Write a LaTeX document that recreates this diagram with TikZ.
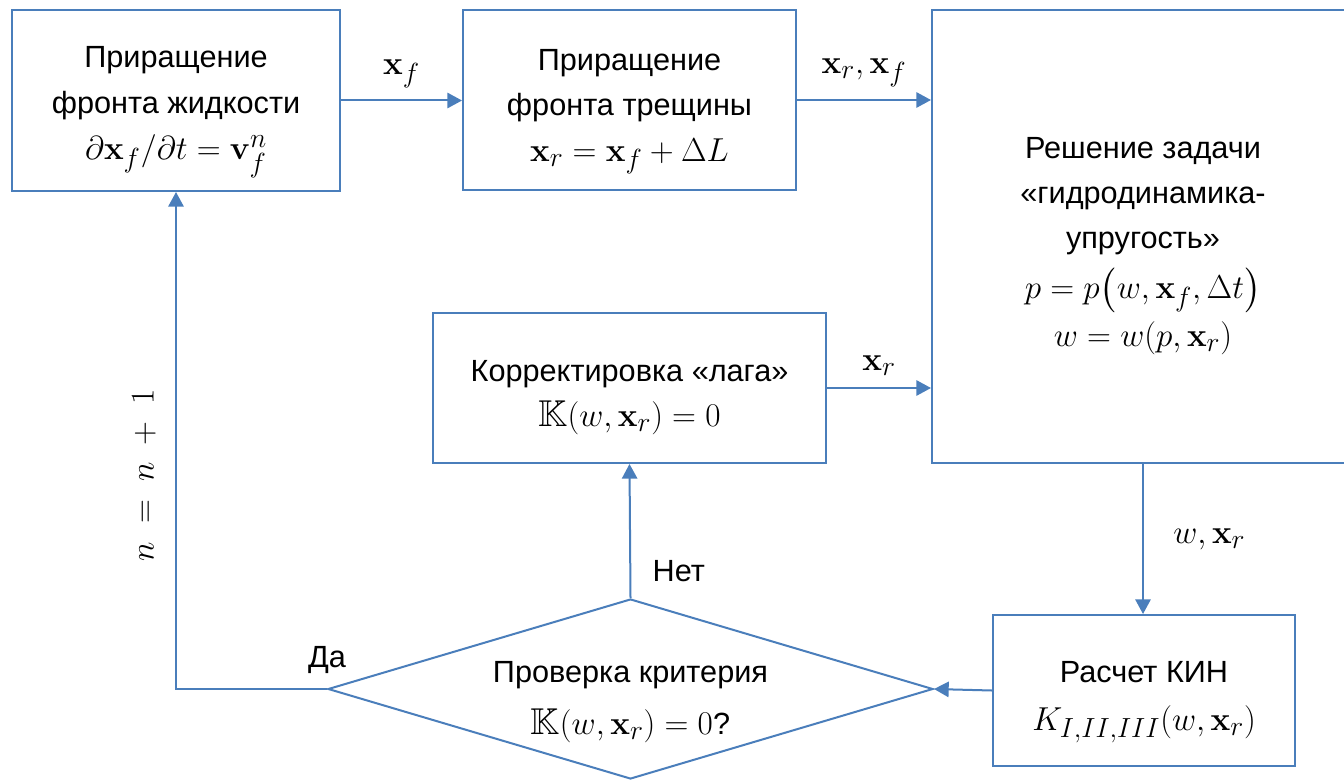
\documentclass[tikz,border=0pt]{standalone}
\usepackage{amsmath,amssymb}
\usepackage[no-math]{fontspec}
\setmainfont{Liberation Sans}
\usetikzlibrary{arrows.meta,shapes.geometric}
\definecolor{lineblue}{RGB}{74,126,187}
\newcommand{\mth}[1]{{\fontsize{28}{34}\selectfont$#1$}}
% text block set a little lower than the centre of its shape
\newcommand{\lowered}[2][5pt]{\raisebox{-#1}[\height][\depth]{\begin{tabular}{@{}c@{}}#2\end{tabular}}}

\begin{document}
\begin{tikzpicture}[x=0.75pt,y=0.75pt,yscale=-1,xscale=1,
  font=\fontsize{23}{34}\selectfont,
  block/.style={draw=lineblue,line width=1.5pt,inner sep=0pt},
  check/.style={draw=lineblue,line width=1.5pt,diamond,aspect=3.36,inner sep=0pt,minimum width=453.75pt,minimum height=135pt},
  link/.style={draw=lineblue,line width=1.5pt,-{Triangle[length=11pt,width=11.5pt]}},
  tag/.style={inner sep=0pt}
]
\useasboundingbox (0,0) rectangle (1344,781);

%Shape: Rectangle (fluid front)
\node [block,minimum width=246pt,minimum height=135.75pt] (fluid) at (176,100.5) {\lowered{Приращение\\фронта жидкости\\[1pt]\mth{\partial\mathbf{x}_f/\partial t=\mathbf{v}_f^n}}};
%Shape: Rectangle (crack front)
\node [block,minimum width=249.75pt,minimum height=135pt] (crack) at (629.5,100) {\lowered{Приращение\\фронта трещины\\\mth{\mathbf{x}_r=\mathbf{x}_f+\Delta L}}};
%Shape: Rectangle (coupled problem)
\node [block,minimum width=316.5pt,minimum height=339.75pt] (solve) at (1143,236.5) {\lowered{Решение задачи\\«гидродинамика-\\упругость»\\[3pt]\mth{p=p\bigl(w,\mathbf{x}_f,\Delta t\bigr)}\\[2pt]\mth{w=w(p,\mathbf{x}_r)}}};
%Shape: Rectangle (lag correction)
\node [block,minimum width=294.75pt,minimum height=112.5pt] (lag) at (629.5,388) {\lowered{Корректировка «лага»\\\mth{\mathbb{K}(w,\mathbf{x}_r)=0}}};
%Shape: Rectangle (SIF)
\node [block,minimum width=226.5pt,minimum height=113.25pt] (sif) at (1144,690.5) {\lowered{Расчет КИН\\[2pt]\mth{K_{I,II,III}(w,\mathbf{x}_r)}}};
%Shape: Diamond (criterion)
\node [check] (crit) at (630.5,689) {\lowered[8pt]{Проверка критерия\\[5pt]\mth{\mathbb{K}(w,\mathbf{x}_r)=0}?}};

% Connectors
\draw [link] (fluid.east) -- node [tag,above=9pt] {\mth{\mathbf{x}_f}} (fluid.east -| crack.west);
\draw [link] (crack.east) -- node [tag,above=9pt] {\mth{\mathbf{x}_r,\mathbf{x}_f}} (crack.east -| solve.west);
\draw [link] (lag.east) -- node [tag,above=9pt] {\mth{\mathbf{x}_r}} (lag.east -| solve.west);
\draw [link] (solve.south) -- node [tag,right=22pt] {\mth{w,\mathbf{x}_r}} (solve.south |- sif.north);
\draw [link] (sif.west) -- (crit.east);
\draw [link] (crit.north) -- node [tag,pos=0.2,right=16pt] {Нет} (lag.south);
\draw [link] (crit.west) -- node [tag,pos=0,above=11pt] {Да} (crit.west -| fluid.south) -- coordinate [pos=0.43] (loopc) (fluid.south);
\node [tag,rotate=90,anchor=south] (loop) at ([xshift=-15pt]loopc) {{\fontsize{30}{34}\selectfont$n\;=\;n\;+\;1$}};

\end{tikzpicture}
\end{document}
